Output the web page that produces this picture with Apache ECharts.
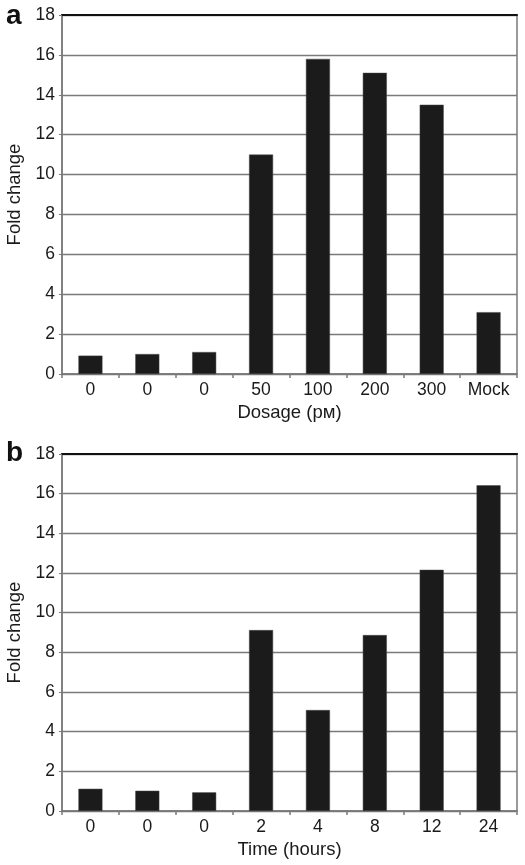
<!DOCTYPE html>
<html><head><meta charset="utf-8">
<script src="https://cdn.jsdelivr.net/npm/echarts@6/dist/echarts.min.js"></script>
<style>html,body{margin:0;padding:0;background:#fff}#c{width:525px;height:865px}</style>
</head><body><div id="c"></div>
<script>
const catsA = ['0','0','0','50','100','200','300','Mock'];
const valsA = [0.92, 1.0, 1.1, 11.0, 15.8, 15.1, 13.5, 3.1];
const catsB = ['0','0','0','2','4','8','12','24'];
const valsB = [1.12, 1.02, 0.94, 9.12, 5.09, 8.87, 12.16, 16.42];
const yTicks = [0, 18, 2];
const titleA = 'Dosage (pм)';
const titleB = 'Time (hours)';
const yTitle = 'Fold change';

const FONT = 'Liberation Sans, Arial, Helvetica, sans-serif';
const TXT = '#1a1a1a';
const GRAY = '#7a7a7a';
const chart = echarts.init(document.getElementById('c'), null, {renderer:'canvas'});

function xAx(idx, cats, name){
  return [{
    type:'category', gridIndex:idx, data:cats, position:'bottom',
    axisLine:{lineStyle:{color:GRAY,width:1.5}},
    axisTick:{show:true,length:4,lineStyle:{color:GRAY,width:1.5}},
    axisLabel:{color:TXT,fontFamily:FONT,fontSize:17.5,margin:7,interval:0},
    name:name, nameLocation:'middle', nameGap:29,
    nameTextStyle:{color:TXT,fontFamily:FONT,fontSize:18.5}
  },{
    type:'category', gridIndex:idx, data:cats, position:'top',
    axisLine:{lineStyle:{color:'#111',width:2}},
    axisTick:{show:false}, axisLabel:{show:false}
  }];
}
function yAx(idx){
  return {
    type:'value', gridIndex:idx, min:yTicks[0], max:yTicks[1], interval:yTicks[2],
    axisLine:{show:true,lineStyle:{color:GRAY,width:1.5}},
    axisTick:{show:true,length:3,lineStyle:{color:GRAY}},
    axisLabel:{color:TXT,fontFamily:FONT,fontSize:17.5,margin:7},
    splitLine:{show:true,lineStyle:{color:GRAY,width:1.3}},
    name:yTitle, nameLocation:'middle', nameGap:38, nameRotate:90,
    nameTextStyle:{color:TXT,fontFamily:FONT,fontSize:18.5}
  };
}
chart.setOption({
  animation:false,
  backgroundColor:'#fff',
  grid:[
    {left:62,right:8,top:15,height:359,show:true,borderColor:GRAY,borderWidth:1.5,outerBoundsMode:'none',containLabel:false},
    {left:62,right:8,top:454,height:357,show:true,borderColor:GRAY,borderWidth:1.5,outerBoundsMode:'none',containLabel:false}
  ],
  xAxis:[...xAx(0,catsA,titleA), ...xAx(1,catsB,titleB)],
  yAxis:[yAx(0), yAx(1)],
  graphic:[
    {type:'text',left:6,top:2,style:{text:'a',font:'bold 28px '+FONT,fill:'#111'}},
    {type:'text',left:6,top:439,style:{text:'b',font:'bold 28px '+FONT,fill:'#111'}}
  ],
  series:[
    {type:'bar',xAxisIndex:0,yAxisIndex:0,data:valsA,barWidth:24,
     itemStyle:{color:'#1b1b1b',borderColor:'#444',borderWidth:0.5}},
    {type:'bar',xAxisIndex:2,yAxisIndex:1,data:valsB,barWidth:24,
     itemStyle:{color:'#1b1b1b',borderColor:'#444',borderWidth:0.5}}
  ]
});
</script></body></html>
